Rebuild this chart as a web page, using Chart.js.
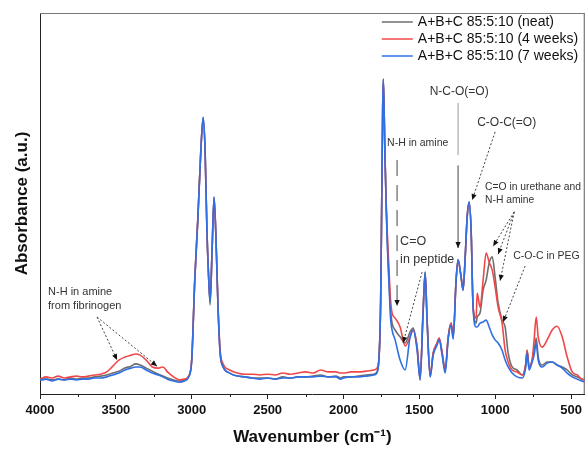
<!DOCTYPE html>
<html>
<head>
<meta charset="utf-8">
<script src="https://cdn.jsdelivr.net/npm/chart.js@4.4.1/dist/chart.umd.min.js"></script>
<style>
    html, body { margin: 0; padding: 0; background: #fff; }
    .chart-container { position: relative; width: 586px; height: 451px; }
</style>
</head>
<body>
<div class="chart-container"><canvas id="ftirChart"></canvas></div>
<script>
// FTIR spectra, wavenumber in cm-1, absorbance in arbitrary units
const wavenumbers = [
    4000, 3960, 3920, 3880, 3840, 3800, 3760, 3720, 3680, 3640,
    3600, 3560, 3520, 3480, 3440, 3400, 3370, 3340, 3300, 3260,
    3220, 3190, 3160, 3120, 3080, 3050, 3020, 3000, 2980, 2960,
    2940, 2925, 2912, 2900, 2890, 2879, 2866, 2853, 2840, 2827,
    2813, 2793, 2750, 2700, 2650, 2600, 2550, 2500, 2450, 2400,
    2350, 2300, 2250, 2200, 2150, 2100, 2050, 2020, 2000, 1950,
    1900, 1850, 1800, 1780, 1765, 1755, 1748, 1742, 1738, 1733,
    1726, 1718, 1710, 1700, 1690, 1680, 1660, 1627, 1594, 1561,
    1541, 1515, 1495, 1476, 1462, 1449, 1429, 1409, 1383, 1370,
    1350, 1330, 1310, 1291, 1277, 1258, 1245, 1225, 1212, 1198,
    1185, 1172, 1159, 1146, 1126, 1119, 1100, 1080, 1060, 1040,
    1020, 1001, 981, 955, 935, 915, 889, 856, 823, 800,
    790, 777, 757, 744, 730, 717, 691, 658, 625, 592,
    559, 526, 493, 460, 430, 400
];

const neat = [
    0.037, 0.039, 0.037, 0.039, 0.037, 0.042, 0.039, 0.042, 0.042, 0.045,
    0.047, 0.050, 0.055, 0.060, 0.068, 0.073, 0.079, 0.076, 0.068, 0.060,
    0.052, 0.047, 0.042, 0.037, 0.034, 0.037, 0.047, 0.089, 0.299, 0.457,
    0.640, 0.724, 0.640, 0.430, 0.318, 0.234, 0.378, 0.517, 0.404, 0.228,
    0.108, 0.071, 0.055, 0.047, 0.045, 0.042, 0.042, 0.042, 0.039, 0.045,
    0.042, 0.045, 0.045, 0.047, 0.050, 0.045, 0.047, 0.042, 0.045, 0.045,
    0.047, 0.050, 0.052, 0.058, 0.102, 0.247, 0.509, 0.745, 0.824, 0.759,
    0.614, 0.483, 0.391, 0.299, 0.220, 0.186, 0.168, 0.150, 0.134, 0.163,
    0.173, 0.123, 0.045, 0.213, 0.320, 0.194, 0.050, 0.108, 0.134, 0.147,
    0.108, 0.063, 0.150, 0.186, 0.150, 0.299, 0.352, 0.307, 0.273, 0.360,
    0.465, 0.504, 0.430, 0.228, 0.186, 0.202, 0.213, 0.273, 0.299, 0.344,
    0.360, 0.307, 0.239, 0.194, 0.176, 0.108, 0.071, 0.063, 0.050, 0.076,
    0.115, 0.071, 0.089, 0.115, 0.147, 0.097, 0.076, 0.084, 0.084, 0.076,
    0.071, 0.063, 0.050, 0.045, 0.039, 0.037
];

const weeks4 = [
    0.039, 0.045, 0.042, 0.047, 0.042, 0.045, 0.047, 0.045, 0.047, 0.050,
    0.052, 0.058, 0.073, 0.089, 0.097, 0.102, 0.105, 0.102, 0.089, 0.071,
    0.068, 0.071, 0.058, 0.045, 0.037, 0.039, 0.047, 0.094, 0.304, 0.462,
    0.640, 0.719, 0.635, 0.430, 0.320, 0.247, 0.378, 0.514, 0.404, 0.234,
    0.115, 0.079, 0.063, 0.055, 0.052, 0.052, 0.050, 0.052, 0.050, 0.055,
    0.052, 0.055, 0.058, 0.055, 0.063, 0.058, 0.058, 0.055, 0.055, 0.058,
    0.058, 0.060, 0.063, 0.068, 0.102, 0.247, 0.509, 0.745, 0.819, 0.759,
    0.614, 0.496, 0.409, 0.325, 0.247, 0.213, 0.199, 0.176, 0.126, 0.150,
    0.168, 0.123, 0.037, 0.213, 0.318, 0.194, 0.045, 0.108, 0.134, 0.147,
    0.108, 0.063, 0.150, 0.186, 0.150, 0.299, 0.352, 0.307, 0.273, 0.360,
    0.465, 0.501, 0.430, 0.228, 0.199, 0.265, 0.228, 0.299, 0.370, 0.346,
    0.325, 0.281, 0.228, 0.186, 0.115, 0.084, 0.063, 0.058, 0.050, 0.076,
    0.115, 0.071, 0.089, 0.142, 0.202, 0.150, 0.123, 0.142, 0.168, 0.178,
    0.150, 0.097, 0.058, 0.050, 0.039, 0.037
];

const weeks7 = [
    0.037, 0.039, 0.034, 0.039, 0.037, 0.039, 0.037, 0.039, 0.039, 0.042,
    0.042, 0.045, 0.050, 0.055, 0.063, 0.068, 0.071, 0.071, 0.063, 0.055,
    0.050, 0.045, 0.039, 0.034, 0.031, 0.034, 0.045, 0.089, 0.299, 0.457,
    0.640, 0.727, 0.640, 0.430, 0.318, 0.241, 0.378, 0.517, 0.404, 0.228,
    0.108, 0.071, 0.055, 0.047, 0.045, 0.042, 0.039, 0.042, 0.039, 0.042,
    0.042, 0.045, 0.045, 0.045, 0.047, 0.045, 0.045, 0.039, 0.042, 0.045,
    0.045, 0.047, 0.050, 0.055, 0.102, 0.247, 0.509, 0.745, 0.827, 0.759,
    0.614, 0.478, 0.378, 0.286, 0.199, 0.168, 0.142, 0.089, 0.063, 0.150,
    0.168, 0.115, 0.037, 0.207, 0.320, 0.189, 0.045, 0.102, 0.129, 0.142,
    0.102, 0.055, 0.144, 0.181, 0.144, 0.299, 0.352, 0.307, 0.273, 0.360,
    0.465, 0.504, 0.430, 0.228, 0.176, 0.176, 0.186, 0.189, 0.194, 0.176,
    0.155, 0.142, 0.134, 0.115, 0.089, 0.071, 0.055, 0.045, 0.042, 0.068,
    0.108, 0.063, 0.084, 0.102, 0.134, 0.089, 0.071, 0.081, 0.084, 0.076,
    0.068, 0.055, 0.045, 0.039, 0.034, 0.031
];

const seriesLabels = ['A+B+C 85:5:10 (neat)', 'A+B+C 85:5:10 (4 weeks)', 'A+B+C 85:5:10 (7 weeks)'];
const seriesColors = ['#6e6e6e', '#f04848', '#2f6fe4'];
const xTicks = [4000, 3500, 3000, 2500, 2000, 1500, 1000, 500];
const xMinorTicks = [3750, 3250, 2750, 2250, 1750, 1250, 750];

// band assignments: text anchored at [wavenumber, absorbance], arrows [x0, y0, x1, y1]
const bandNotes = [
    { lines: ['N-H in amine', 'from fibrinogen'], at: [3947, 0.268], size: 11, gap: 14, dash: [2, 2],
      arrows: [[3624, 0.202, 3492, 0.089], [3624, 0.202, 3229, 0.073]] },
    { lines: ['N-H in amine'], at: [1713, 0.659], size: 10.5, dash: [16, 9],
      arrows: [[1647, 0.614, 1647, 0.231]] },
    { lines: ['C=O', 'in peptide'], at: [1627, 0.399], size: 12.5, gap: 18, dash: [2, 2],
      arrows: [[1482, 0.320, 1607, 0.134]] },
    { lines: ['N-C-O(=O)'], at: [1238, 0.793], size: 12, align: 'center', dash: [],
      arrows: [[1245, 0.764, 1245, 0.627, 'plain'], [1245, 0.600, 1245, 0.383]] },
    { lines: ['C-O-C(=O)'], at: [1119, 0.711], size: 12, dash: [2, 2],
      arrows: [[1001, 0.688, 1152, 0.509]] },
    { lines: ['C=O in urethane and', 'N-H amine'], at: [1067, 0.543], size: 10.3, gap: 13, dash: [2, 2],
      arrows: [[875, 0.478, 1014, 0.388], [875, 0.478, 981, 0.367], [875, 0.478, 968, 0.297]] },
    { lines: ['C-O-C in PEG'], at: [882, 0.362], size: 10.5, dash: [2, 2],
      arrows: [[803, 0.336, 948, 0.189]] },
];

const FONT = '"Liberation Sans", Arial, sans-serif';

function arrowHead(ctx, x0, y0, x1, y1) {
    const a = Math.atan2(y1 - y0, x1 - x0);
    const len = 6, half = 2.6;
    ctx.beginPath();
    ctx.moveTo(x1, y1);
    ctx.lineTo(x1 - len * Math.cos(a) + half * Math.sin(a), y1 - len * Math.sin(a) - half * Math.cos(a));
    ctx.lineTo(x1 - len * Math.cos(a) - half * Math.sin(a), y1 - len * Math.sin(a) + half * Math.cos(a));
    ctx.closePath();
    ctx.fill();
}

const framePlugin = {
    id: 'frame',
    afterDraw(chart) {
        const { ctx, chartArea: a, scales: { x, y } } = chart;
        ctx.save();
        // top and right edges of the box
        ctx.strokeStyle = '#777';
        ctx.lineWidth = 1.2;
        ctx.beginPath();
        ctx.moveTo(a.left, a.top + 0.5);
        ctx.lineTo(a.right - 0.5, a.top + 0.5);
        ctx.lineTo(a.right - 0.5, a.bottom);
        ctx.stroke();
        // minor ticks between the labelled ones
        ctx.strokeStyle = '#222';
        ctx.lineWidth = 1;
        ctx.beginPath();
        xMinorTicks.forEach(v => {
            const px = Math.round(x.getPixelForValue(v)) + 0.5;
            ctx.moveTo(px, a.bottom);
            ctx.lineTo(px, a.bottom + 3);
        });
        ctx.stroke();

        // legend, top right inside the plot
        ctx.font = '14px ' + FONT;
        ctx.textBaseline = 'middle';
        ctx.textAlign = 'left';
        seriesLabels.forEach((label, i) => {
            const ly = a.top + 9 + i * 17;
            ctx.strokeStyle = seriesColors[i];
            ctx.lineWidth = 1.5;
            ctx.beginPath();
            ctx.moveTo(a.right - 203, ly);
            ctx.lineTo(a.right - 172, ly);
            ctx.stroke();
            ctx.fillStyle = '#111';
            ctx.fillText(label, a.right - 167, ly);
        });

        // band assignments
        bandNotes.forEach(n => {
            ctx.font = n.size + 'px ' + FONT;
            ctx.fillStyle = '#333';
            ctx.textAlign = n.align || 'left';
            const tx = x.getPixelForValue(n.at[0]);
            const ty = y.getPixelForValue(n.at[1]);
            n.lines.forEach((t, i) => ctx.fillText(t, tx, ty + i * (n.gap || 14)));

            n.arrows.forEach(ar => {
                const x0 = x.getPixelForValue(ar[0]), y0 = y.getPixelForValue(ar[1]);
                const x1 = x.getPixelForValue(ar[2]), y1 = y.getPixelForValue(ar[3]);
                const plain = ar[4] === 'plain';
                ctx.strokeStyle = plain ? '#999' : '#444';
                ctx.lineWidth = 1;
                ctx.setLineDash(plain ? [] : n.dash);
                ctx.beginPath();
                ctx.moveTo(x0, y0);
                ctx.lineTo(x1, y1);
                ctx.stroke();
                ctx.setLineDash([]);
                if (!plain) {
                    ctx.fillStyle = '#111';
                    arrowHead(ctx, x0, y0, x1, y1);
                }
            });
        });
        ctx.restore();
    }
};

const series = [neat, weeks4, weeks7];

new Chart(document.getElementById('ftirChart'), {
    type: 'line',
    data: {
        datasets: series.map((vals, i) => ({
            label: seriesLabels[i],
            data: wavenumbers.map((w, j) => ({ x: w, y: vals[j] })),
            borderColor: seriesColors[i],
            borderWidth: 1.6,
            pointRadius: 0,
            cubicInterpolationMode: 'monotone',
            order: 3 - i,
        })),
    },
    options: {
        responsive: true,
        maintainAspectRatio: false,
        animation: false,
        layout: { padding: { top: 13, right: 1, left: 0, bottom: 0 } },
        plugins: {
            legend: { display: false },
            tooltip: { enabled: false },
        },
        scales: {
            x: {
                type: 'linear',
                reverse: true,
                min: 410,
                max: 4000,
                afterBuildTicks: s => { s.ticks = xTicks.map(v => ({ value: v })); },
                afterFit: s => { s.height = 57; },
                ticks: {
                    color: '#111',
                    font: { family: FONT, size: 13, weight: 'bold' },
                    padding: 4,
                    maxRotation: 0,
                    autoSkip: false,
                    callback: v => v,
                },
                grid: { drawOnChartArea: false, tickLength: 5, tickColor: '#222' },
                border: { color: '#222', width: 1 },
                title: {
                    display: true,
                    text: 'Wavenumber (cm\u207B\u00B9)',
                    color: '#111',
                    font: { family: FONT, size: 17, weight: 'bold' },
                    padding: { top: 4, bottom: 3 },
                },
            },
            y: {
                min: 0,
                max: 1,
                afterFit: s => { s.width = 40; },
                ticks: { display: false },
                grid: { display: false },
                border: { color: '#222', width: 1 },
                title: {
                    display: true,
                    text: 'Absorbance (a.u.)',
                    color: '#111',
                    font: { family: FONT, size: 17, weight: 'bold' },
                    padding: { top: 12, bottom: 0 },
                },
            },
        },
    },
    plugins: [framePlugin],
});
</script>
</body>
</html>
